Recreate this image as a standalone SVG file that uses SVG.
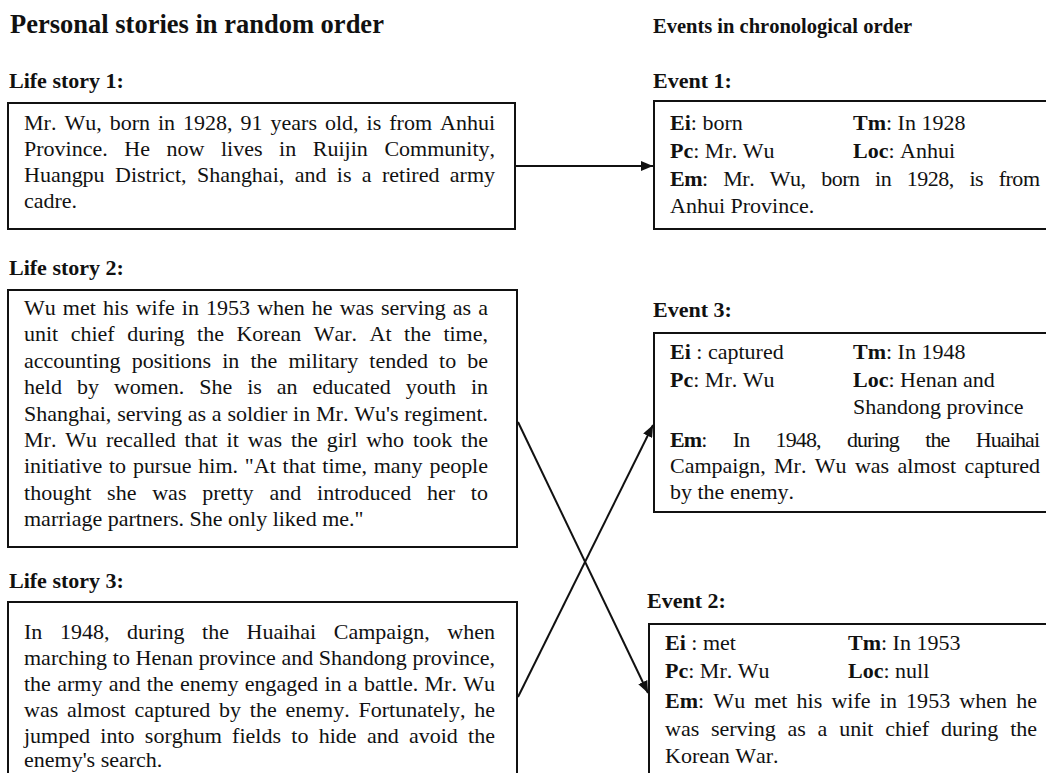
<svg xmlns="http://www.w3.org/2000/svg" width="1046" height="773" viewBox="0 0 1046 773">
<defs>
<style>
text{font-family:"Liberation Serif","Times New Roman",serif;fill:#111;font-kerning:none}
.t{font-size:22px}
.b{font-weight:bold}
.h1{font-size:26.5px;font-weight:bold}
.h2{font-size:20.5px;font-weight:bold}
.lbl{font-size:22px;font-weight:bold}
.box{fill:#fff;stroke:#111;stroke-width:2}
.con{stroke:#111;stroke-width:2;fill:none;marker-end:url(#ah)}
</style>
<marker id="ah" markerWidth="12" markerHeight="10" refX="12" refY="5" orient="auto" markerUnits="userSpaceOnUse">
<path d="M0,0 L12,5 L0,10 Z" fill="#111"/>
</marker>
</defs>
<rect width="1046" height="773" fill="#fff"/>
<g id="headings">
<text class="h1" x="10" y="33">Personal stories in random order</text>
<text class="h2" x="653" y="33">Events in chronological order</text>
</g>
<g id="story1">
<text class="lbl" x="9" y="88">Life story 1:</text>
<rect class="box" x="8" y="103" width="507" height="126"/>
<text class="t" x="24" y="130" word-spacing="2.5" textLength="471" lengthAdjust="spacing">Mr. Wu, born in 1928, 91 years old, is from Anhui</text>
<text class="t" x="24" y="156" word-spacing="11.1" textLength="471" lengthAdjust="spacing">Province. He now lives in Ruijin Community,</text>
<text class="t" x="24" y="182" word-spacing="4.9" textLength="471" lengthAdjust="spacing">Huangpu District, Shanghai, and is a retired army</text>
<text class="t" x="24" y="208">cadre.</text>
</g>
<g id="story2">
<text class="lbl" x="9" y="275">Life story 2:</text>
<rect class="box" x="8" y="290" width="509" height="257"/>
<text class="t" x="24" y="315" word-spacing="1.6" textLength="464" lengthAdjust="spacing">Wu met his wife in 1953 when he was serving as a</text>
<text class="t" x="24" y="341.4" word-spacing="7" textLength="464" lengthAdjust="spacing">unit chief during the Korean War. At the time,</text>
<text class="t" x="24" y="367.8" word-spacing="5.6" textLength="464" lengthAdjust="spacing">accounting positions in the military tended to be</text>
<text class="t" x="24" y="394.2" word-spacing="9.5" textLength="464" lengthAdjust="spacing">held by women. She is an educated youth in</text>
<text class="t" x="24" y="420.6" word-spacing="0.3" textLength="464" lengthAdjust="spacing">Shanghai, serving as a soldier in Mr. Wu's regiment.</text>
<text class="t" x="24" y="447" word-spacing="3.4" textLength="464" lengthAdjust="spacing">Mr. Wu recalled that it was the girl who took the</text>
<text class="t" x="24" y="473.4" word-spacing="1.3" textLength="464" lengthAdjust="spacing">initiative to pursue him. "At that time, many people</text>
<text class="t" x="24" y="499.8" word-spacing="10.3" textLength="464" lengthAdjust="spacing">thought she was pretty and introduced her to</text>
<text class="t" x="24" y="526.2">marriage partners. She only liked me."</text>
</g>
<g id="story3">
<text class="lbl" x="9" y="588">Life story 3:</text>
<rect class="box" x="8" y="602" width="509" height="200"/>
<text class="t" x="24" y="639" word-spacing="12.1" textLength="471" lengthAdjust="spacing">In 1948, during the Huaihai Campaign, when</text>
<text class="t" x="24" y="665" word-spacing="0.2" textLength="471" lengthAdjust="spacing">marching to Henan province and Shandong province,</text>
<text class="t" x="24" y="691" word-spacing="0.8" textLength="471" lengthAdjust="spacing">the army and the enemy engaged in a battle. Mr. Wu</text>
<text class="t" x="24" y="717" word-spacing="3.3" textLength="471" lengthAdjust="spacing">was almost captured by the enemy. Fortunately, he</text>
<text class="t" x="24" y="743" word-spacing="4.8" textLength="471" lengthAdjust="spacing">jumped into sorghum fields to hide and avoid the</text>
<text class="t" x="24" y="767">enemy's search.</text>
</g>
<g id="event1">
<text class="lbl" x="653" y="88">Event 1:</text>
<rect class="box" x="654" y="101" width="400" height="128"/>
<text class="t" x="670" y="130"><tspan class="b">Ei</tspan>: born</text>
<text class="t" x="853" y="130"><tspan class="b">Tm</tspan>: In 1928</text>
<text class="t" x="670" y="158"><tspan class="b">Pc</tspan>: Mr. Wu</text>
<text class="t" x="853" y="158"><tspan class="b">Loc</tspan>: Anhui</text>
<text class="t" x="670" y="186" word-spacing="10.6" textLength="370" lengthAdjust="spacing"><tspan class="b">Em</tspan>: Mr. Wu, born in 1928, is from</text>
<text class="t" x="670" y="213">Anhui Province.</text>
</g>
<g id="event3">
<text class="lbl" x="653" y="317">Event 3:</text>
<rect class="box" x="654" y="333" width="400" height="179"/>
<text class="t" x="670" y="359"><tspan class="b">Ei</tspan> : captured</text>
<text class="t" x="853" y="359"><tspan class="b">Tm</tspan>: In 1948</text>
<text class="t" x="670" y="387"><tspan class="b">Pc</tspan>: Mr. Wu</text>
<text class="t" x="853" y="387"><tspan class="b">Loc</tspan>: Henan and</text>
<text class="t" x="853" y="414">Shandong province</text>
<text class="t" x="670" y="447" word-spacing="21.7" textLength="370" lengthAdjust="spacing"><tspan class="b">Em</tspan>: In 1948, during the Huaihai</text>
<text class="t" x="670" y="473" word-spacing="3" textLength="370" lengthAdjust="spacing">Campaign, Mr. Wu was almost captured</text>
<text class="t" x="670" y="499">by the enemy.</text>
</g>
<g id="event2">
<text class="lbl" x="647" y="608">Event 2:</text>
<rect class="box" x="649" y="624" width="405" height="200"/>
<text class="t" x="665" y="650"><tspan class="b">Ei</tspan> : met</text>
<text class="t" x="848" y="650"><tspan class="b">Tm</tspan>: In 1953</text>
<text class="t" x="665" y="678"><tspan class="b">Pc</tspan>: Mr. Wu</text>
<text class="t" x="848" y="678"><tspan class="b">Loc</tspan>: null</text>
<text class="t" x="665" y="708" word-spacing="3.6" textLength="372" lengthAdjust="spacing"><tspan class="b">Em</tspan>: Wu met his wife in 1953 when he</text>
<text class="t" x="665" y="736" word-spacing="6.3" textLength="372" lengthAdjust="spacing">was serving as a unit chief during the</text>
<text class="t" x="665" y="763">Korean War.</text>
</g>
<g id="connectors">
<line class="con" x1="516" y1="166" x2="653" y2="166"/>
<line class="con" x1="518" y1="422" x2="648" y2="693"/>
<line class="con" x1="518" y1="697" x2="653" y2="425"/>
</g>
</svg>
